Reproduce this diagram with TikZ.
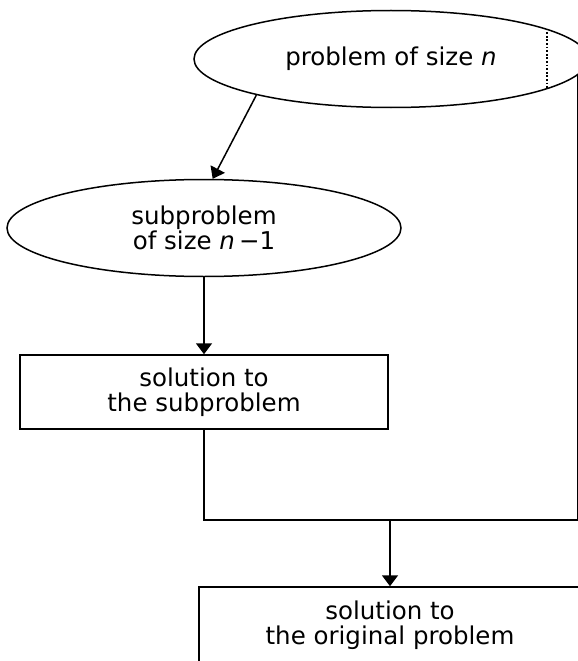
\documentclass[tikz,border=0pt]{standalone}
\usepackage{fontspec}
\setmainfont{DejaVu Sans}
\usetikzlibrary{shapes.geometric, positioning, arrows.meta}

\begin{document}
\begin{tikzpicture}[x=1pt, y=-1pt, line width=1.5pt,
  every node/.style={font=\fontsize{24.5}{25.5}\selectfont},
  freccia/.style={-{Triangle[width=16pt,length=11pt]}},
  puntini/.style={line width=1.5pt, dash pattern=on 1.8pt off 1.8pt},
  ovale/.style={draw, ellipse, inner sep=0pt, align=center,
    minimum width=\ovalW, minimum height=\ovalH},
  scatola/.style={draw, rectangle, align=center,
    minimum width=\boxW, minimum height=\boxH}]
  \newlength{\ovalW}
  \newlength{\ovalH}
  \newlength{\boxW}
  \newlength{\boxH}
  \setlength{\ovalW}{394pt}
  \setlength{\ovalH}{97pt}
  \setlength{\boxW}{368pt}
  \setlength{\boxH}{74pt}

  \useasboundingbox (0,0) rectangle (578,661);
  \clip (0,0) rectangle (578,661);

  % problema
  \node[ovale] (Problema) at (391,59) {problem of size \textit{n}};
  \draw[puntini] (Problema.11) -- (Problema.-11);
  % sottoproblema
  \node[ovale] (Sotto) at (204,228) {subproblem\\of size \textit{n}\,−1};
  % soluzioni
  \node[scatola] (SolSotto) at (204,392) {solution to\\the subproblem};
  \node[scatola, minimum width=382pt, minimum height=76pt] (SolFinale) at (390,625)
    {solution to\\the original problem};

  \coordinate (Giunto) at (204,520);
  \coordinate (Ramo) at (390,520);

  % frecce
  \draw[freccia] (Problema.195.5) -- (Sotto.80.7);
  \draw[freccia] (Sotto.south) -- (SolSotto.north);
  \draw (SolSotto.south) -- (Giunto) -| (Problema.-5.4);
  \draw[freccia] (Ramo) -- (SolFinale.north);
\end{tikzpicture}
\end{document}
